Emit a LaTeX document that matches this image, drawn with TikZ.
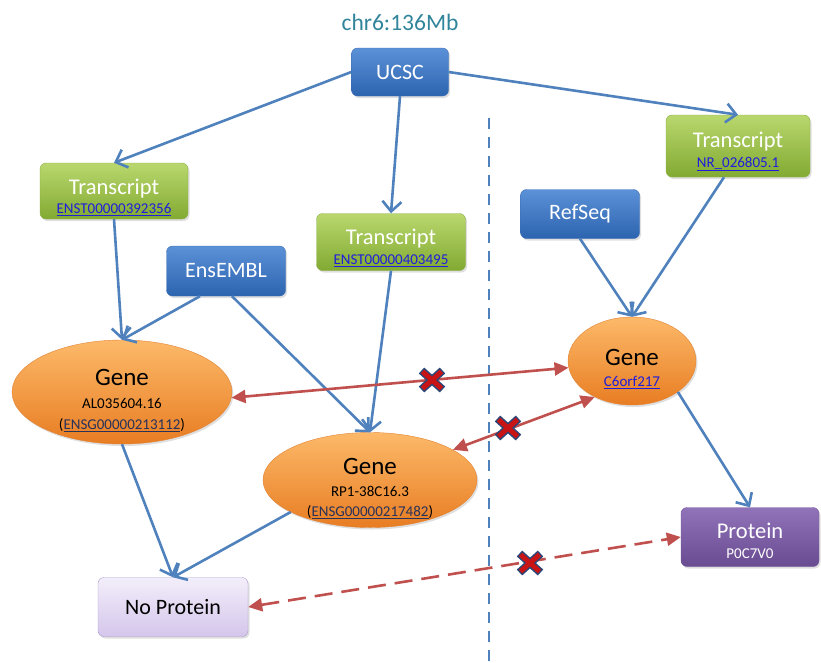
\documentclass[tikz,border=0pt]{standalone}
\usepackage{fontspec}
\setmainfont{Carlito}
\usetikzlibrary{arrows.meta,shapes.geometric,shadows,calc}
\definecolor{bluearrow}{RGB}{79,129,189}
\definecolor{redarrow}{RGB}{192,80,77}
\definecolor{titlecol}{RGB}{49,133,155}
\definecolor{linkblue}{RGB}{30,30,220}
\definecolor{linkdark}{RGB}{40,50,90}
\definecolor{xnavy}{RGB}{40,70,120}
\definecolor{xred}{RGB}{200,20,20}
\tikzset{
  boxbase/.style={rounded corners=6pt, align=center, inner sep=0pt, drop shadow={opacity=0.25,shadow xshift=1.5pt,shadow yshift=-2pt}},
  bluebox/.style={boxbase, top color={rgb,255:red,90;green,145;blue,215}, bottom color={rgb,255:red,45;green,100;blue,175}, draw={rgb,255:red,60;green,110;blue,180}, text=white, font=\fontsize{22}{24}\selectfont},
  greenbox/.style={boxbase, top color={rgb,255:red,185;green,215;blue,110}, bottom color={rgb,255:red,130;green,170;blue,50}, draw={rgb,255:red,140;green,175;blue,70}, text=white},
  purplebox/.style={boxbase, top color={rgb,255:red,145;green,115;blue,185}, bottom color={rgb,255:red,105;green,75;blue,145}, draw={rgb,255:red,120;green,90;blue,160}, text=white},
  lilacbox/.style={boxbase, top color={rgb,255:red,243;green,238;blue,250}, bottom color={rgb,255:red,212;green,198;blue,235}, draw={rgb,255:red,175;green,155;blue,205}, text=black, font=\fontsize{22}{24}\selectfont},
  geneell/.style={ellipse, inner xsep=0pt, inner ysep=-18pt, align=center, top color={rgb,255:red,252;green,185;blue,105}, bottom color={rgb,255:red,232;green,125;blue,35}, draw={rgb,255:red,225;green,130;blue,50}, drop shadow={opacity=0.25,shadow xshift=1.5pt,shadow yshift=-2pt}},
  bluearr/.style={draw=bluearrow, line width=2.6pt, -{Straight Barb[length=10pt,width=19pt,line width=2.6pt]}},
  redarr/.style={draw=redarrow, line width=2.6pt, {Triangle[length=14pt,width=13pt]}-{Triangle[length=14pt,width=13pt]}},
  divider/.style={draw=bluearrow, line width=2.4pt, dash pattern=on 11pt off 8pt},
}
% #1 = extra height on top (pushes the text block down by half of it)
\newcommand{\BigT}[2]{{\fontsize{22.5}{25}\selectfont\rule{0pt}{#1}\strut #2}}
\newcommand{\GeneT}[1]{{\fontsize{25}{28}\selectfont\rule{0pt}{#1}\strut Gene}}
\newcommand{\SmallT}[1]{{\fontsize{15}{17.5}\selectfont\strut #1}}
\newcommand{\lnk}[1]{\textcolor{linkblue}{\underline{#1}}}
\newcommand{\dlnk}[1]{\textcolor{linkdark}{\underline{#1}}}
\newcommand{\nomark}[1]{%
  \draw[xnavy, line width=8pt] ($(#1)+(-10.5,-9.5)$) -- ($(#1)+(10.5,9.5)$) ($(#1)+(-10.5,9.5)$) -- ($(#1)+(10.5,-9.5)$);
  \draw[xred, line width=5pt] ($(#1)+(-9.5,-8.5)$) -- ($(#1)+(9.5,8.5)$) ($(#1)+(-9.5,8.5)$) -- ($(#1)+(9.5,-8.5)$);}
\begin{document}
\begin{tikzpicture}[x=1pt,y=-1pt]
\useasboundingbox (0,0) rectangle (821,662);
% divider
\coordinate (d1) at (489,118);
\coordinate (d2) at (489,662);
\draw[divider] (d1) -- (d2);
% nodes
\node[text=titlecol, font=\fontsize{23.5}{26}\selectfont] (title) at (400,22) {chr6:136Mb};
\node[bluebox, minimum width=97pt, minimum height=48pt] (ucsc) at (400,72) {UCSC};
\node[greenbox, minimum width=148pt, minimum height=53pt] (t1) at (114,191) {\BigT{31pt}{Transcript}\\[-1pt]\SmallT{\lnk{ENST00000392356}}};
\node[greenbox, minimum width=149pt, minimum height=57pt] (t2) at (391,242) {\BigT{30pt}{Transcript}\\[-1pt]\SmallT{\lnk{ENST00000403495}}};
\node[greenbox, minimum width=144pt, minimum height=62pt] (t3) at (738,146) {\BigT{28pt}{Transcript}\\[-1pt]\SmallT{\lnk{NR\_026805.1}}};
\node[bluebox, minimum width=119pt, minimum height=49pt] (refseq) at (580,214) {RefSeq};
\node[bluebox, minimum width=119pt, minimum height=50pt] (ensembl) at (226,271) {EnsEMBL};
\node[geneell, minimum width=220pt, minimum height=104pt] (g1) at (122,392) {\GeneT{37pt}\\[1pt]\SmallT{AL035604.16}\\[3pt]\SmallT{(\dlnk{ENSG00000213112})}};
\node[geneell, minimum width=214pt, minimum height=95pt] (g2) at (370,480) {\GeneT{36pt}\\[1pt]\SmallT{RP1-38C16.3}\\[1pt]\SmallT{(\dlnk{ENSG00000217482})}};
\node[geneell, minimum width=128pt, minimum height=88pt] (g3) at (632,361) {\GeneT{35pt}\\[-1pt]\SmallT{\lnk{C6orf217}}};
\node[purplebox, minimum width=138pt, minimum height=59pt] (prot) at (750,537) {\BigT{28pt}{Protein}\\[-1pt]\SmallT{P0C7V0}};
\node[lilacbox, minimum width=150pt, minimum height=59pt] (noprot) at (173,607) {No Protein};
% blue arrows
\draw[bluearr] (ucsc.west) -- (t1.north);
\draw[bluearr] (ucsc.south) -- (t2.north);
\draw[bluearr] (ucsc.east) -- (t3.north);
\draw[bluearr] (t1.south) -- (g1.north);
\draw[bluearr] ([xshift=-26pt]ensembl.south) -- (g1.north);
\draw[bluearr] ([xshift=6pt]ensembl.south) -- (g2.north);
\draw[bluearr] (t2.south) -- (g2.north);
\draw[bluearr] (refseq.south) -- (g3.north);
\draw[bluearr] ([xshift=-14pt]t3.south) -- (g3.north);
\draw[bluearr] (g3.-34) -- (prot.north);
\draw[bluearr] (g1.south) -- (noprot.north);
\draw[bluearr] (g2.202) -- (noprot.north);
% red arrows
\draw[redarr] (g1.-3) -- (g3.186);
\draw[redarr] (g2.20) -- (g3.224);
\draw[redarr, dash pattern=on 18pt off 9pt] (noprot.east) -- (prot.west);
% crosses
\coordinate (x1) at (432,380);
\coordinate (x2) at (508,428);
\coordinate (x3) at (530,563);
\nomark{x1}
\nomark{x2}
\nomark{x3}
\end{tikzpicture}
\end{document}
